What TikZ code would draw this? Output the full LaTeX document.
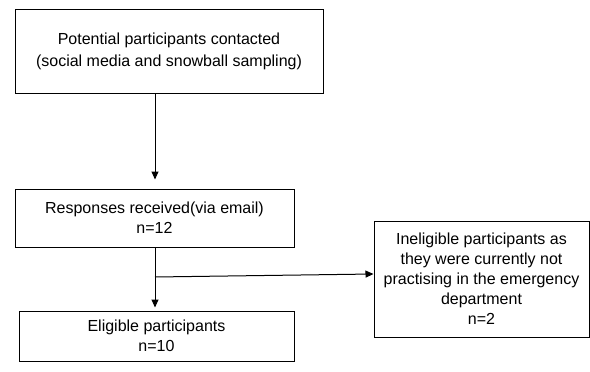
\documentclass[tikz,border=0pt]{standalone}
\usepackage{fontspec}
\setmainfont{Liberation Sans}
\usetikzlibrary{arrows.meta}

\begin{document}
\begin{tikzpicture}[x=1pt,y=-1pt]
%style for flow box
\tikzstyle{fbox} = [rectangle, draw=black, line width=1pt, align=center, inner sep=0pt, font=\fontsize{16}{20}\selectfont]

%style for connector
\tikzstyle{flow} = [-{Triangle[length=8pt,width=7pt]}, line width=1pt]

\useasboundingbox (0,0) rectangle (590,372);

%place nodes
\node[fbox, minimum width=308pt, minimum height=84pt, font=\fontsize{16}{22}\selectfont](contact) at (169,51) {Potential participants contacted\\(social media and snowball sampling)};
\node[fbox, minimum width=279pt, minimum height=58pt](resp) at (154.5,218) {Responses received(via email)\\n=12};
\node[fbox, minimum width=275pt, minimum height=50pt](elig) at (156.5,336) {Eligible participants\\n=10};
\node[fbox, minimum width=215pt, minimum height=116pt](inelig) at (481.5,279) {Ineligible participants as\\they were currently not\\practising in the emergency\\department\\n=2};
\coordinate (split) at (155,277);

%connect nodes with lines
\draw[flow, shorten >=9pt] (contact.south -| split) -- (resp.north -| split);
\draw[flow, shorten >=3pt] (resp.south -| split) -- (elig.north -| split);
\draw[flow] (split) -- ([yshift=5pt]inelig.west);
\end{tikzpicture}
\end{document}
